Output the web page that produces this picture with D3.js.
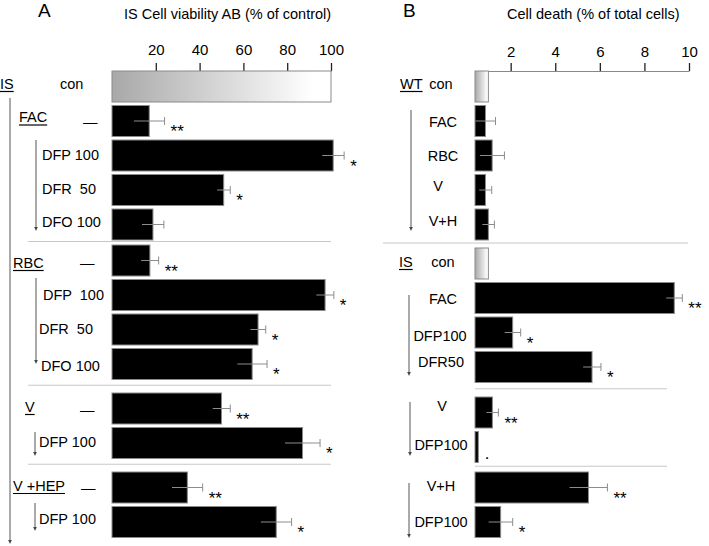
<!DOCTYPE html>
<html><head><meta charset="utf-8">
<script src="https://cdn.jsdelivr.net/npm/d3@7"></script>
<style>
body{margin:0;background:#fff;}
svg{display:block;font-family:"Liberation Sans",Arial,sans-serif;}
text{white-space:pre;}
</style></head>
<body><svg id="c" width="709" height="546"></svg>
<script>
// ---------- DATA ----------
// Panel A: IS cell viability AB (% of control)
const leftLabels  = ["con","—","DFP 100","DFR  50","DFO 100","—","DFP  100","DFR  50","DFO 100","—","DFP 100","—","DFP 100"];
const leftValues  = [100,17,101,51,18.7,17.3,97.3,66.7,64,50,87,34.4,75];
const leftErrors  = [0,7,5,3,5,4,4,3.5,6.8,4,8,7,7];
const leftStars   = ["","**","*","*","","**","*","*","*","**","*","**","*"];
const leftGroup   = [0,0,0,0,0,1,1,1,1,2,2,3,3];
const leftHeaders = ["IS","FAC","RBC","V","V +HEP"];
const leftHeaderRows = [0,1,5,9,11];
const leftTicks   = [20,40,60,80,100];

// Panel B: cell death (% of total cells)
const rightLabels = ["con","FAC","RBC","V","V+H","con","FAC","DFP100","DFR50","V","DFP100","V+H","DFP100"];
const rightValues = [1.0,0.87,1.17,0.87,1.0,1.0,9.34,2.09,5.65,1.18,0.55,5.49,1.55];
const rightErrors = [0,0.45,0.55,0.28,0.27,0,0.36,0.36,0.4,0.27,0,0.85,0.54];
const rightStars  = ["","","","","","","**","*","*","**","·","**","*"];
const rightGroup  = [0,0,0,0,0,1,1,1,1,2,2,3,3];
const rightHeaders = ["WT","IS"];
const rightHeaderRows = [0,5];
const rightTicks  = [2,4,6,8,10];

// ---------- LAYOUT ----------
const svg = d3.select("#c");
const defs = svg.append("defs");
function grad(id){
  const g = defs.append("linearGradient").attr("id",id).attr("x1","0").attr("x2","1").attr("y1","0").attr("y2","0");
  g.append("stop").attr("offset","0").attr("stop-color","#a8a8a8");
  g.append("stop").attr("offset","0.92").attr("stop-color","#ffffff");
  g.append("stop").attr("offset","1").attr("stop-color","#ffffff");
}
grad("gA"); grad("gB");

const step = 34.5, barH = 31, top0 = 71;
function rowY(groups, gaps){
  return (i) => top0 + i*step + d3.sum(gaps.slice(0, groups[i]));
}

function panel(o){
  const x = d3.scaleLinear().domain(o.domain).range(o.range);
  const y = rowY(o.group, o.gaps);
  const g = svg.append("g");
  // axis
  const ax = g.append("g").attr("transform",`translate(0,${top0})`)
    .call(d3.axisTop(x).tickValues(o.ticks).tickSize(8).tickSizeOuter(0).tickPadding(o.pad));
  ax.select(".domain").attr("stroke","#888");
  ax.selectAll(".tick line").attr("stroke","#222").attr("stroke-width",1.3);
  ax.selectAll(".tick text").attr("font-size",15).attr("fill","#000").attr("font-family","Liberation Sans, Arial, sans-serif");
  // separators
  o.seps.forEach(s=>{
    const i = s.after; const yy = (y(i)+barH + y(i+1))/2 - 1;
    g.append("line").attr("x1",s.x1).attr("x2",s.x2).attr("y1",yy).attr("y2",yy)
      .attr("stroke","#c8c8c8").attr("stroke-width",1.2);
  });
  // bars
  o.values.forEach((v,i)=>{
    const isCon = o.labels[i]==="con";
    g.append("rect").attr("x",x(o.domain[0])).attr("y",y(i)).attr("width",x(v)-x(o.domain[0])).attr("height",barH)
      .attr("fill", isCon ? `url(#${o.gid})` : "#000").attr("stroke","#8a8a8a").attr("stroke-width",1);
    const e = o.errors[i];
    const cy = y(i)+barH/2;
    if(e>0){
      g.append("line").attr("x1",x(v-e)).attr("x2",x(v+e)).attr("y1",cy).attr("y2",cy).attr("stroke","#8c8c8c").attr("stroke-width",1);
      g.append("line").attr("x1",x(v+e)).attr("x2",x(v+e)).attr("y1",cy-4).attr("y2",cy+4).attr("stroke","#8c8c8c").attr("stroke-width",1);
    }
    if(o.stars[i]){
      g.append("text").attr("x",x(v+e)+6).attr("y",cy+16).attr("font-size",17).text(o.stars[i]);
    }
    // label
    g.append("text").attr("x",o.labelX[i]).attr("y",cy+o.labelDy[i]).attr("dy","0.35em")
      .attr("font-size",14.5).attr("text-anchor",o.anchor).text(o.labels[i]);
  });
  // headers
  o.headers.forEach((h,k)=>{
    const r = o.headerRows[k];
    const cy = y(r)+barH/2 + o.headerDy[k];
    const t = g.append("text").attr("x",o.headerX[k]).attr("y",cy).attr("dy","0.35em")
      .attr("font-size",14.5).text(h);
    const w = t.node().getComputedTextLength();
    g.append("line").attr("x1",o.headerX[k]).attr("x2",o.headerX[k]+w).attr("y1",cy+8).attr("y2",cy+8)
      .attr("stroke","#000").attr("stroke-width",1.2);
  });
  // arrows
  o.arrows.forEach(a=>{
    g.append("line").attr("x1",a.x).attr("x2",a.x).attr("y1",a.y1).attr("y2",a.y2-3)
      .attr("stroke","#555").attr("stroke-width",1);
    g.append("path").attr("d",`M${a.x-1.8},${a.y2-4} L${a.x+1.8},${a.y2-4} L${a.x},${a.y2} Z`).attr("fill","#444");
  });
  // titles
  g.append("text").attr("x",o.letterX).attr("y",17).attr("font-size",19).text(o.letter);
  g.append("text").attr("x",o.titleX).attr("y",19).attr("font-size",14.5).text(o.title);
}

panel({
  domain:[0,100], range:[112,331], ticks:leftTicks, pad:8,
  labels:leftLabels, values:leftValues, errors:leftErrors, stars:leftStars, group:leftGroup,
  gaps:[1.5,10,10], gid:"gA", anchor:"start",
  labelX:[60,83,42,42,42,80,43,39,41,80,39,81,39],
  labelDy:[-3,1,-1,-1,-3,2,0,-1,2,1,-1,0,-3],
  headers:leftHeaders, headerRows:leftHeaderRows, headerX:[0,19,13,25,13], headerDy:[-3,-4,2,-2,-2],
  seps:[{after:4,x1:28,x2:331},{after:8,x1:28,x2:331},{after:10,x1:28,x2:331}],
  arrows:[{x:10,y1:98,y2:544},{x:36,y1:140,y2:231},{x:36,y1:278,y2:364},{x:35,y1:432,y2:456},{x:35,y1:503,y2:531}],
  letter:"A", letterX:38, title:"IS Cell viability AB (% of control)", titleX:124
});

panel({
  domain:[0.4,10], range:[475,689], ticks:rightTicks, pad:6,
  labels:rightLabels, values:rightValues, errors:rightErrors, stars:rightStars, group:rightGroup,
  gaps:[4.5,11,6], gid:"gB", anchor:"middle",
  labelX:[441,443,443,438,443,443,443,440,441,442,441,441,441],
  labelDy:[-3,1,0,-4,-4,-2,1,3,-5,-7,-2,-2,0],
  headers:rightHeaders, headerRows:rightHeaderRows, headerX:[400,399], headerDy:[-3,-2],
  seps:[{after:4,x1:383,x2:688},{after:8,x1:475,x2:667},{after:10,x1:475,x2:667}],
  arrows:[{x:411,y1:110,y2:231},{x:409,y1:295,y2:376},{x:410,y1:402,y2:456},{x:409,y1:483,y2:538}],
  letter:"B", letterX:403, title:"Cell death (% of total cells)", titleX:507
});
</script></body></html>
